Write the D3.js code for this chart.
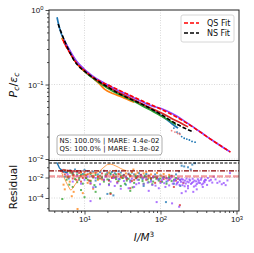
<!DOCTYPE html>
<html lang="en">
<head>
<meta charset="UTF-8">
<title>Pc/ec collapse</title>
<script src="https://d3js.org/d3.v7.min.js"></script>
<style>
  body { margin: 0; background: #fff; }
  svg { display: block; font-family: "DejaVu Sans", sans-serif; }
  .grid line { stroke: #cfcfcf; stroke-width: 0.8; stroke-dasharray: 1,1.5; }
  .axis .domain { display: none; }
  .axis line { stroke: #222; stroke-width: 0.8; }
  .axis text { font-size: 8px; fill: #111; }
</style>
</head>
<body>
<script>
// ---- data ----
const xTicks = [10, 100, 1000];
const yTicksTop = [1, 0.1, 0.01];
const yTicksRes = [0.01, 0.0001];
const yMinorRes = [0.1, 0.001, 0.00001];

const seriesColors = ["#1f77b4", "#ff7f0e", "#2ca02c", "#d62728", "#9147ff"];

// top panel: [I/M^3, Pc/ec]
const blueLine = [[4.35,0.80],[4.5,0.68],[4.7,0.57],[5.0,0.47],[5.5,0.38],[6.2,0.30],[7.2,0.225],[8.5,0.18],[10,0.152],[12,0.13],[15,0.11],[20,0.094],[26,0.08],[35,0.068],[50,0.058],[70,0.048],[100,0.039],[140,0.03],[170,0.026]];
const orangeLine = [[5.0,0.42],[5.5,0.36],[6.2,0.29],[7.2,0.22],[8.5,0.175],[10,0.15],[12,0.13],[14,0.114],[16,0.1],[18,0.088],[20,0.082],[22,0.078],[25,0.074],[28,0.071],[32,0.067],[38,0.062],[45,0.058]];
const greenLine = [[5.6,0.35],[6.2,0.29],[7,0.235],[8,0.195],[9.5,0.16],[11,0.138],[13,0.121],[16,0.104],[20,0.09],[25,0.079],[32,0.07],[40,0.063],[55,0.053],[75,0.045],[100,0.038],[130,0.033],[160,0.029]];
const redLine = [[5.3,0.38],[5.7,0.33],[6.3,0.28],[7,0.235],[8,0.195],[9.5,0.163],[11,0.142],[13,0.124],[16,0.108],[20,0.095],[25,0.084],[32,0.074],[40,0.066],[55,0.056],[75,0.048],[100,0.042],[140,0.035],[190,0.03],[230,0.027]];
const purpleLine = [[5.3,0.40],[5.7,0.35],[6.3,0.295],[7,0.245],[8,0.2],[9.5,0.168],[11,0.146],[13,0.128],[16,0.112],[20,0.099],[25,0.088],[32,0.078],[40,0.07],[55,0.06],[75,0.052],[100,0.048],[140,0.041],[200,0.033],[280,0.0262],[400,0.0203],[550,0.0163],[700,0.0138],[820,0.0125]];
const blueTail = [[150,0.026],[165,0.023],[178,0.022],[190,0.02],[205,0.019],[222,0.0185],[240,0.018],[260,0.0172],[285,0.0168]];
const redTail = [[140,0.024],[155,0.023],[168,0.022],[180,0.0215]];

const qsFit = [[5.2,0.40],[5.6,0.34],[6.2,0.28],[7,0.23],[8,0.19],[9.7,0.158],[12,0.132],[15,0.114],[22,0.095],[35,0.076],[60,0.059],[100,0.047],[167,0.036],[280,0.026],[455,0.0185],[834,0.0124]];
const nsFit = [[4.5,0.65],[4.8,0.54],[5.1,0.46],[5.5,0.38],[6,0.31],[6.6,0.255],[7.2,0.215],[8.2,0.18],[9.7,0.155],[11.5,0.135],[13.1,0.123],[16,0.107],[20,0.093],[28,0.076],[40,0.064],[60,0.053],[100,0.04],[167,0.029],[272,0.023]];

// residual panel: [I/M^3, residual]
const blueResCurve = [[4.3,0.30],[4.4,0.22],[4.5,0.16],[4.6,0.11],[4.7,0.08],[4.9,0.06],[5.1,0.045],[5.4,0.035],[6,0.03]];
const orangeResCurve = [[5.0,0.03],[5.2,0.015],[5.5,0.007],[5.8,0.003],[6.2,0.0012],[6.6,0.0006],[7.0,0.0009],[7.5,0.002],[8,0.004],[8.5,0.008],[9,0.012],[10,0.018],[11,0.022],[12,0.025],[14,0.03],[16,0.045],[17,0.07],[18,0.1],[19,0.14],[20,0.18],[22,0.2],[24,0.17],[26,0.13],[28,0.1],[30,0.075],[33,0.055],[37,0.042]];
const blueRes = [[6.5,0.05],[7,0.032],[7.5,0.06],[8,0.035],[9,0.04],[10,0.055],[11,0.04],[12,0.03],[13,0.037],[16,0.033],[18,0.045],[20,0.03],[22,0.02],[25,0.026],[28,0.04],[30,0.03],[33,0.018],[38,0.024],[42,0.03],[45,0.02],[50,0.014],[55,0.018],[65,0.022],[70,0.015],[80,0.01],[90,0.012],[100,0.016],[120,0.004],[130,0.009],[150,0.0025],[20,0.00025],[24,0.00018],[14,0.0012],[35,0.002],[60,0.0015],[118,0.00004],[175,0.04],[180,0.006],[182,0.0015],[190,0.14],[205,0.12],[230,0.10],[250,0.06],[262,0.18],[285,0.25],[5.5,0.012],[6.2,0.008],[7,0.018],[8.5,0.006],[9.5,0.022],[10.5,0.009],[12.5,0.014],[14,0.005],[15,0.02],[17,0.0085],[19,0.013],[21,0.006],[23,0.035],[26,0.011],[29,0.007],[32,0.015],[36,0.009],[40,0.005],[48,0.011],[52,0.026],[58,0.007],[62,0.012],[75,0.006],[85,0.02],[95,0.007],[110,0.011],[140,0.015],[160,0.02]];
const orangeRes = [[42,0.035],[50,0.03],[60,0.025],[75,0.02],[90,0.028],[110,0.022],[130,0.018],[5.5,0.0007],[6.8,0.00015],[8.1,0.0000085],[9.5,0.0003],[11,0.003],[13,0.0008],[15,0.006],[7.2,0.0004],[6,0.01],[7,0.015],[9,0.03],[5.3,0.002],[6.4,0.004],[10.5,0.009],[12,0.005],[13,0.015],[15,0.012],[17,0.0065],[21,0.03],[23,0.012],[26,0.045],[29,0.02],[31,0.009],[35,0.025],[40,0.014],[44,0.06],[47,0.02],[55,0.012],[65,0.035],[70,0.009],[80,0.013],[100,0.015],[120,0.008]];
const greenRes = [[5.5,0.05],[6,0.04],[6.5,0.03],[7,0.025],[8,0.02],[9,0.018],[10,0.02],[12,0.022],[14,0.018],[16,0.015],[19,0.02],[22,0.025],[26,0.02],[30,0.015],[35,0.012],[40,0.018],[47,0.014],[55,0.01],[65,0.012],[75,0.009],[85,0.011],[100,0.008],[5.1,0.00008],[10,0.00012],[16,0.00009],[22,0.0003],[30,0.0015],[45,0.003],[60,0.0025],[80,0.004],[120,0.0025],[150,0.006],[7,0.0012],[11,0.006],[18,0.004],[26,0.007],[36,0.005],[52,0.006],[70,0.0035],[95,0.005],[130,0.012],[160,0.009],[8.5,0.009],[13,0.01],[6,0.012],[5.8,0.006],[6.3,0.002],[7.5,0.007],[8,0.0035],[9.5,0.0025],[10.5,0.009],[12,0.0045],[13.5,0.0018],[15,0.008],[17,0.011],[20,0.0065],[21,0.0022],[24,0.012],[28,0.0045],[32,0.009],[34,0.0025],[38,0.0075],[43,0.0011],[48,0.0085],[58,0.0045],[62,0.015],[68,0.0065],[78,0.0022],[88,0.0075],[105,0.0038],[110,0.011],[140,0.0045],[9,0.0006],[14,0.0004],[40,0.0005]];
const redRes = [[4.9,0.045],[5.1,0.05],[5.3,0.055],[5.6,0.05],[6,0.048],[6.5,0.045],[7,0.042],[7.5,0.04],[8,0.04],[9,0.038],[10,0.035],[12,0.03],[14,0.028],[17,0.025],[20,0.02],[24,0.018],[28,0.022],[33,0.016],[40,0.014],[50,0.012],[60,0.01],[75,0.008],[90,0.009],[110,0.007],[130,0.006],[160,0.005],[7,0.008],[9,0.004],[12,0.0025],[18,0.006],[180,0.00002],[22,0.00025],[40,0.0009],[150,0.0012],[5.2,0.035],[5.8,0.03],[6.8,0.03],[8.5,0.028],[11,0.02],[15,0.012],[25,0.01],[45,0.006],[70,0.015],[100,0.004],[200,0.003],[5.5,0.02],[6.2,0.012],[7.2,0.018],[7.8,0.006],[8.8,0.014],[9.5,0.009],[10.5,0.016],[11.5,0.005],[13,0.012],[16,0.008],[19,0.014],[21,0.005],[23,0.009],[27,0.0035],[30,0.011],[36,0.007],[38,0.02],[42,0.0045],[48,0.009],[55,0.018],[65,0.006],[80,0.011],[85,0.003],[120,0.009],[140,0.014],[170,0.0075]];
const purpleRes = [[6,0.02],[8,0.015],[10,0.006],[12,0.003],[14,0.009],[16,0.0022],[19,0.012],[22,0.004],[25,0.0015],[28,0.007],[30,0.0008],[35,0.01],[40,0.0035],[45,0.0012],[50,0.006],[55,0.015],[60,0.0022],[65,0.008],[70,0.0005],[75,0.004],[80,0.012],[86,0.0016],[92,0.0065],[100,0.003],[108,0.009],[116,0.0012],[125,0.005],[135,0.0075],[145,0.0025],[157,0.006],[170,0.0035],[183,0.0055],[195,0.0018],[210,0.005],[225,0.004],[240,0.0065],[260,0.003],[280,0.005],[300,0.0023],[320,0.0048],[340,0.006],[360,0.0012],[380,0.0035],[420,0.009],[460,0.006],[500,0.012],[560,0.003],[640,0.0022],[720,0.0018],[820,0.027],[150,0.0045],[165,0.0028],[178,0.0019],[190,0.0072],[200,0.0033],[215,0.0026],[230,0.0015],[245,0.0052],[270,0.0038],[290,0.0016],[310,0.0068],[330,0.0029],[350,0.0021],[375,0.0044],[395,0.0056],[12,0.00005],[89,0.00004],[142,0.00003],[176,0.000014],[190,0.0003],[230,0.0009],[270,0.0004],[215,0.00045],[300,0.0007],[155,0.0065],[162,0.0021],[172,0.0085],[186,0.0038],[198,0.0062],[208,0.0014],[220,0.0078],[235,0.0034],[252,0.0024],[265,0.0075],[275,0.0013],[295,0.0042],[315,0.0031],[345,0.0085],[365,0.0026],[385,0.0062],[410,0.0019],[440,0.0048],[480,0.0032],[530,0.0065],[600,0.0041],[680,0.0029],[760,0.0052],[7,0.004],[9,0.0025],[11,0.012],[13,0.0011],[18,0.006],[21,0.0018],[24,0.009],[27,0.0028],[33,0.0045],[38,0.0009],[42,0.0075],[48,0.0022],[52,0.0028],[58,0.0095],[68,0.0032],[78,0.0019],[95,0.0009],[104,0.0055],[112,0.0028],[120,0.0085],[130,0.0017],[140,0.011]];

const resLevels = [0.26, 0.044, 0.013];   // threshold, NS MARE, QS MARE

const lines = [blueLine, orangeLine, greenLine, redLine, purpleLine];
const residuals = [blueRes, orangeRes, greenRes, redRes, purpleRes];

// ---- layout ----
const W = 254, H = 253;
const left = 49, right = 239, top1 = 10, bot1 = 160.5, bot2 = 211;

const svg = d3.select("body").append("svg").attr("width", W).attr("height", H);

const x = d3.scaleLog().domain([3.41, 1079]).range([left, right]);
const y1 = d3.scaleLog().domain([1, 0.00955]).range([top1, bot1]);
const y2 = d3.scaleLog().domain([0.456, 5.4e-6]).range([bot1, bot2]);

const defs = svg.append("defs");
defs.append("clipPath").attr("id", "c1").append("rect")
  .attr("x", left).attr("y", top1).attr("width", right - left).attr("height", bot1 - top1);
defs.append("clipPath").attr("id", "c2").append("rect")
  .attr("x", left).attr("y", bot1).attr("width", right - left).attr("height", bot2 - bot1);

function minorTicks(scale) {
  const [a, b] = d3.extent(scale.domain());
  const out = [];
  for (let e = Math.floor(Math.log10(a)); e <= Math.ceil(Math.log10(b)); e++) {
    for (let m = 2; m <= 9; m++) {
      const v = m * Math.pow(10, e);
      if (v >= a && v <= b) out.push(v);
    }
  }
  return out;
}

function powLabel(sel) {
  sel.each(function(d) {
    const e = Math.round(Math.log10(d));
    const t = d3.select(this).text("");
    t.append("tspan").text("10");
    t.append("tspan").attr("dy", "-0.45em").attr("font-size", "5.8px")
      .text(e < 0 ? "\u2212" + (-e) : e);
  });
}

// gridlines
const grid = svg.append("g").attr("class", "grid");
[[top1, bot1], [bot1, bot2]].forEach(([a, b]) => {
  grid.selectAll(null).data([10, 100]).enter().append("line")
    .attr("x1", d => x(d)).attr("x2", d => x(d)).attr("y1", a).attr("y2", b);
});
grid.selectAll(null).data([0.1, 0.01]).enter().append("line")
  .attr("x1", left).attr("x2", right).attr("y1", d => y1(d)).attr("y2", d => y1(d));
grid.selectAll(null).data(yTicksRes).enter().append("line")
  .attr("x1", left).attr("x2", right).attr("y1", d => y2(d)).attr("y2", d => y2(d));

// top panel
const p1 = svg.append("g").attr("clip-path", "url(#c1)");
const line1 = d3.line().x(d => x(d[0])).y(d => y1(d[1])).curve(d3.curveMonotoneX);

lines.forEach((s, i) => {
  p1.append("path").datum(s).attr("d", line1)
    .attr("fill", "none").attr("stroke", seriesColors[i]).attr("stroke-width", 1.7);
});
p1.selectAll(null).data(blueTail).enter().append("circle")
  .attr("cx", d => x(d[0])).attr("cy", d => y1(d[1])).attr("r", 0.9)
  .attr("fill", seriesColors[0]);
p1.selectAll(null).data(redTail).enter().append("circle")
  .attr("cx", d => x(d[0])).attr("cy", d => y1(d[1])).attr("r", 0.9)
  .attr("fill", "#f08080");

p1.append("path").datum(qsFit).attr("d", line1)
  .attr("fill", "none").attr("stroke", "red").attr("stroke-width", 1.6)
  .attr("stroke-dasharray", "4,2");
p1.append("path").datum(nsFit).attr("d", line1)
  .attr("fill", "none").attr("stroke", "black").attr("stroke-width", 1.6)
  .attr("stroke-dasharray", "4,2");

// residual panel
const p2 = svg.append("g").attr("clip-path", "url(#c2)");
const line2 = d3.line().x(d => x(d[0])).y(d => y2(d[1])).curve(d3.curveMonotoneX);
residuals.forEach((s, i) => {
  p2.selectAll(null).data(s).enter().append("rect")
    .attr("x", d => x(d[0]) - 1).attr("y", d => y2(d[1]) - 1)
    .attr("width", 2).attr("height", 2)
    .attr("fill", seriesColors[i]).attr("opacity", 0.75);
});
p2.append("path").datum(blueResCurve).attr("d", line2)
  .attr("fill", "none").attr("stroke", seriesColors[0]).attr("stroke-width", 1.4);
p2.append("path").datum(orangeResCurve).attr("d", line2)
  .attr("fill", "none").attr("stroke", seriesColors[1]).attr("stroke-width", 0.9).attr("opacity", 0.8);

p2.append("line").attr("x1", left).attr("x2", right)
  .attr("y1", y2(resLevels[0])).attr("y2", y2(resLevels[0]))
  .attr("stroke", "black").attr("stroke-width", 1).attr("stroke-dasharray", "3,1.5");
p2.append("line").attr("x1", left).attr("x2", right)
  .attr("y1", y2(resLevels[1])).attr("y2", y2(resLevels[1]))
  .attr("stroke", "#8b0000").attr("stroke-width", 1.3).attr("stroke-dasharray", "5,1.5,1,1.5");
p2.append("line").attr("x1", left).attr("x2", right)
  .attr("y1", y2(resLevels[2])).attr("y2", y2(resLevels[2]))
  .attr("stroke", "#e8474c").attr("stroke-opacity", 0.55).attr("stroke-width", 2.4)
  .attr("stroke-dasharray", "6,2");

// axes
svg.append("g").attr("class", "axis").attr("transform", `translate(${left},0)`)
  .call(d3.axisLeft(y1).tickValues(yTicksTop).tickSize(3.5).tickPadding(2))
  .selectAll("text").call(powLabel);
svg.append("g").attr("class", "axis").attr("transform", `translate(${left},0)`)
  .call(d3.axisLeft(y1).tickValues(minorTicks(y1)).tickSize(2).tickFormat(""));

svg.append("g").attr("class", "axis").attr("transform", `translate(${left},0)`)
  .call(d3.axisLeft(y2).tickValues(yTicksRes).tickSize(3.5).tickPadding(2))
  .selectAll("text").call(powLabel);
svg.append("g").attr("class", "axis").attr("transform", `translate(${left},0)`)
  .call(d3.axisLeft(y2).tickValues(yMinorRes).tickSize(2).tickFormat(""));

svg.append("g").attr("class", "axis").attr("transform", `translate(0,${bot2})`)
  .call(d3.axisBottom(x).tickValues(xTicks).tickSize(3.5).tickPadding(2))
  .selectAll("text").call(powLabel);
svg.append("g").attr("class", "axis").attr("transform", `translate(0,${bot2})`)
  .call(d3.axisBottom(x).tickValues(minorTicks(x)).tickSize(2).tickFormat(""));

// frames
[[top1, bot1], [bot1, bot2]].forEach(([a, b]) => {
  svg.append("rect").attr("x", left).attr("y", a).attr("width", right - left).attr("height", b - a)
    .attr("fill", "none").attr("stroke", "#222").attr("stroke-width", 1);
});

// legend
const lg = svg.append("g");
lg.append("rect").attr("x", 181).attr("y", 15).attr("width", 53).attr("height", 27).attr("rx", 2)
  .attr("fill", "white").attr("fill-opacity", 0.85).attr("stroke", "#ccc").attr("stroke-width", 0.8);
[["QS Fit", "red", 23], ["NS Fit", "black", 33]].forEach(([lab, col, yy]) => {
  lg.append("line").attr("x1", 184).attr("x2", 199).attr("y1", yy).attr("y2", yy)
    .attr("stroke", col).attr("stroke-width", 1.6).attr("stroke-dasharray", "4,2");
  lg.append("text").attr("x", 207).attr("y", yy + 2.9).attr("font-size", "8px").attr("fill", "#111").text(lab);
});

// stats box
const sb = svg.append("g");
sb.append("rect").attr("x", 57).attr("y", 135).attr("width", 105).attr("height", 20).attr("rx", 3)
  .attr("fill", "white").attr("fill-opacity", 0.9).attr("stroke", "#999").attr("stroke-width", 0.8);
sb.append("text").attr("x", 59.5).attr("y", 143).attr("font-size", "6.9px").attr("fill", "#111")
  .attr("textLength", 100).text("NS: 100.0% | MARE: 4.4e-02");
sb.append("text").attr("x", 59.5).attr("y", 151.2).attr("font-size", "6.9px").attr("fill", "#111")
  .attr("textLength", 100).text("QS: 100.0% | MARE: 1.3e-02");

// axis labels
const yl = svg.append("text").attr("transform", "translate(17,85) rotate(-90)")
  .attr("text-anchor", "middle").attr("font-size", "11px").attr("fill", "#111");
yl.append("tspan").attr("font-style", "italic").text("P");
yl.append("tspan").attr("font-style", "italic").attr("font-size", "7.7px").attr("dy", "2").text("c");
yl.append("tspan").attr("dy", "-2").text("/");
yl.append("tspan").attr("font-style", "italic").text("\u03b5");
yl.append("tspan").attr("font-style", "italic").attr("font-size", "7.7px").attr("dy", "2").text("c");

svg.append("text").attr("transform", "translate(17,187) rotate(-90)")
  .attr("text-anchor", "middle").attr("font-size", "10.5px").attr("fill", "#111").text("Residual");

const xl = svg.append("text").attr("x", 144).attr("y", 241)
  .attr("text-anchor", "middle").attr("font-size", "10.5px").attr("fill", "#111");
xl.append("tspan").attr("font-style", "italic").text("I/M");
xl.append("tspan").attr("font-size", "7.3px").attr("dy", "-4").text("3");
</script>
</body>
</html>
